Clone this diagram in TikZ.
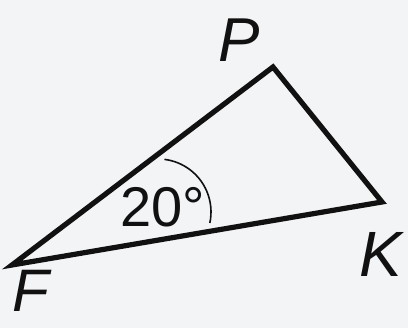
\documentclass[tikz,border=0pt]{standalone}
\usepackage{fontspec}
\setmainfont{Liberation Sans}
\definecolor{paper}{HTML}{F3F4F6}
\definecolor{ink}{HTML}{111111}
\usetikzlibrary{positioning}

\begin{document}
\begin{tikzpicture}[x=1pt,y=1pt]
    \fill[paper] (0,0) rectangle (408,328);
    \useasboundingbox (0,0) rectangle (408,328);
    \coordinate (F) at (12,63);
    \coordinate (P) at (273,261);
    \coordinate (K) at (382,126);
    \coordinate (angc) at (158,116);
    \draw[ink,line width=5.2pt,line join=miter] (F) -- (P) -- (K) -- cycle;
    \draw[ink,line width=1.6pt] ([shift={(83:53pt)}]angc) arc[start angle=83,end angle=-12,radius=53pt];
    \node[ink,anchor=base west,inner sep=0pt,font=\fontsize{56}{56}\selectfont] (ang) at (120,101) {20°};
    \node[ink,inner sep=0pt,font=\fontsize{62}{62}\selectfont\itshape] (lP) at (239,288) {P};
    \node[ink,inner sep=0pt,font=\fontsize{64}{64}\selectfont\itshape] (lK) at (381,74) {K};
    \node[ink,inner sep=0pt,font=\fontsize{60}{60}\selectfont\itshape] (lF) at (31,37) {F};
\end{tikzpicture}
\end{document}
